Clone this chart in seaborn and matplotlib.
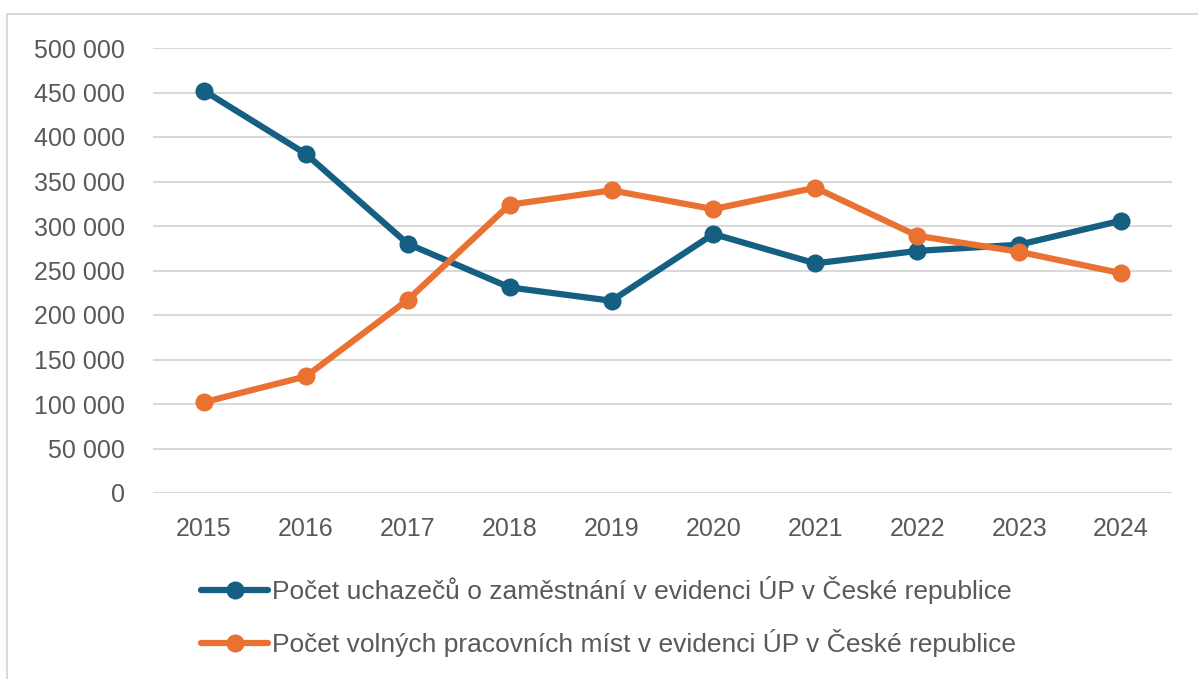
import pandas as pd
import matplotlib
matplotlib.use('Agg')
import matplotlib.pyplot as plt
import seaborn as sns
from matplotlib.lines import Line2D
from matplotlib.ticker import FuncFormatter

# data
years = ['2015', '2016', '2017', '2018', '2019', '2020', '2021', '2022', '2023', '2024']
uchazeci = [452000, 381000, 280000, 231000, 216000, 291000, 258000, 272000, 279000, 306000]
volna_mista = [102000, 131000, 217000, 324000, 340000, 319000, 343000, 289000, 271000, 247000]
series_names = ['Počet uchazečů o zaměstnání v evidenci ÚP v České republice',
                'Počet volných pracovních míst v evidenci ÚP v České republice']
colors = ['#156082', '#E97132']

df = pd.DataFrame({
    'rok': years * 2,
    'hodnota': uchazeci + volna_mista,
    'serie': [series_names[0]] * len(years) + [series_names[1]] * len(years),
})

sns.set_style('white')
plt.rcParams['font.family'] = ['Liberation Sans', 'DejaVu Sans']
txt = '#595959'

fig = plt.figure(figsize=(11.98, 6.79), dpi=100)
ax = fig.add_axes([153/1198, 1-493/679, (1172-153)/1198, (493-48)/679])

sns.lineplot(data=df, x='rok', y='hodnota', hue='serie', palette=colors,
             marker='o', markersize=13, markeredgewidth=0, linewidth=4.5,
             sort=False, ax=ax)

ax.set_ylim(0, 500000)
ax.set_xlim(-0.5, 9.5)
ax.set_yticks(range(0, 500001, 50000))
ax.yaxis.set_major_formatter(FuncFormatter(lambda v, p: f'{int(v):,}'.replace(',', ' ')))
ax.grid(axis='y', color='#D9D9D9', linewidth=1.5)
ax.set_axisbelow(True)
for s in ax.spines.values():
    s.set_visible(False)
ax.tick_params(axis='both', length=0, labelsize=18, colors=txt)
ax.tick_params(axis='y', pad=20)
ax.tick_params(axis='x', pad=17)
ax.set_xlabel('')
ax.set_ylabel('')

handles, labels = ax.get_legend_handles_labels()
ax.get_legend().remove()
fig.legend(handles, labels, loc='upper left', bbox_to_anchor=(201/1198, 1-576/679),
           frameon=False, fontsize=19, labelcolor=txt, handlelength=2.55,
           handletextpad=0.15, labelspacing=0.95, borderaxespad=0, borderpad=0)

# light frame: only top and left edges are visible in the original
fig.add_artist(Line2D([7/1198, 1], [1-14/679, 1-14/679], transform=fig.transFigure,
                      color='#D9D9D9', linewidth=1.5))
fig.add_artist(Line2D([7/1198, 7/1198], [0, 1-14/679], transform=fig.transFigure,
                      color='#D9D9D9', linewidth=1.5))

fig.savefig('out.png', dpi=100)
